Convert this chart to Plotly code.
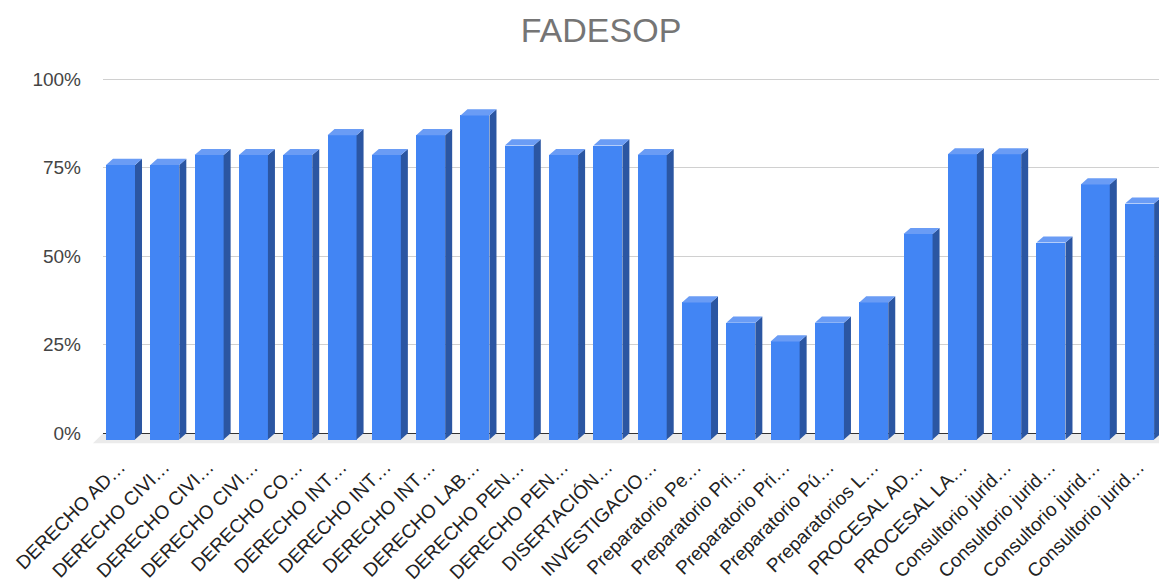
import plotly.graph_objects as go

title = "FADESOP"
categories = [
    "DERECHO AD…", "DERECHO CIVI…", "DERECHO CIVI…", "DERECHO CIVI…",
    "DERECHO CO…", "DERECHO INT…", "DERECHO INT…", "DERECHO INT…",
    "DERECHO LAB…", "DERECHO PEN…", "DERECHO PEN…", "DISERTACIÓN…",
    "INVESTIGACIO…", "Preparatorio Pe…", "Preparatorio Pri…", "Preparatorio Pri…",
    "Preparatorio Pú…", "Preparatorios L…", "PROCESAL AD…", "PROCESAL LA…",
    "Consultorio jurid…", "Consultorio jurid…", "Consultorio jurid…", "Consultorio jurid…",
]
values = [77.5, 77.5, 80.3, 80.3, 80.3, 85.9, 80.3, 85.9, 91.5, 83.0, 80.3, 83.0,
          80.3, 38.7, 33.0, 27.7, 33.0, 38.7, 58.0, 80.5, 80.5, 55.6, 72.0, 66.6]
y_tickvals = [0, 25, 50, 75, 100]
y_ticktext = ["0%", "25%", "50%", "75%", "100%"]

# 3D styling parameters
W = 0.655   # front face width (category units)
DX = 0.158  # depth offset in x
DY = 1.75   # depth offset in y (value units)
LABEL_SHIFT = -0.02
FRONT = "#4285F4"
SIDE = "#2B56A2"
TOP = "#6A9CF5"

idx = list(range(len(values)))
front_x = [i - DX for i in idx]
label_x = [i - DX + LABEL_SHIFT for i in idx]

fig = go.Figure()

# front faces
fig.add_trace(go.Bar(
    x=front_x, y=values, base=[-DY] * len(values), width=W,
    marker=dict(color=FRONT, line=dict(width=0)), hoverinfo="skip", showlegend=False,
))

# side faces
sx, sy = [], []
for i, v in zip(idx, values):
    xr = i - DX + W / 2
    sx += [xr, i + W / 2, i + W / 2, xr, xr, None]
    sy += [-DY, 0, v, v - DY, -DY, None]
fig.add_trace(go.Scatter(x=sx, y=sy, fill="toself", fillcolor=SIDE, mode="lines",
                         line=dict(width=0, color=SIDE), hoverinfo="skip", showlegend=False))

# top faces
tx, ty = [], []
for i, v in zip(idx, values):
    xl = i - DX - W / 2
    xr = i - DX + W / 2
    tx += [xl, i - W / 2, i + W / 2, xr, xl, None]
    ty += [v - DY, v, v, v - DY, v - DY, None]
fig.add_trace(go.Scatter(x=tx, y=ty, fill="toself", fillcolor=TOP, mode="lines",
                         line=dict(width=0, color=TOP), hoverinfo="skip", showlegend=False))

fig.update_layout(
    width=1159, height=586,
    margin=dict(l=103, r=0, t=72, b=142, autoexpand=False),
    paper_bgcolor="white", plot_bgcolor="white",
    font=dict(family="Liberation Sans, Arial, sans-serif"),
    title=dict(text=title, x=0.4716, xref="paper", xanchor="center",
               y=1 - 30 / 586, yref="container", yanchor="middle",
               font=dict(size=34, color="#757575")),
    bargap=0,
    shapes=[dict(type="path", xref="paper", yref="y",
                 path="M 0,0 L 1,0 L 1,-2.8 L -0.0095,-2.8 Z",
                 fillcolor="#EBEBEB", line=dict(width=0), layer="below")],
)
fig.update_xaxes(
    range=[-0.553, 23.28], tickmode="array", tickvals=label_x, ticktext=categories,
    tickangle=-45, tickfont=dict(size=19, color="#222222"),
    showgrid=False, zeroline=False, showline=False, ticks="", ticklabelstandoff=7,
    ticklabeloverflow="allow", automargin=False,
)
fig.update_yaxes(
    range=[-3, 102], tickmode="array", tickvals=y_tickvals, ticktext=y_ticktext,
    tickfont=dict(size=19, color="#444444"),
    showgrid=True, gridcolor="#D0D0D0", gridwidth=1,
    zeroline=True, zerolinecolor="#333333", zerolinewidth=1,
    showline=False, ticks="", ticklabelstandoff=21, automargin=False,
)

fig.write_html("out.html", config={"displayModeBar": False},
               post_script="document.body.style.margin='0';")
